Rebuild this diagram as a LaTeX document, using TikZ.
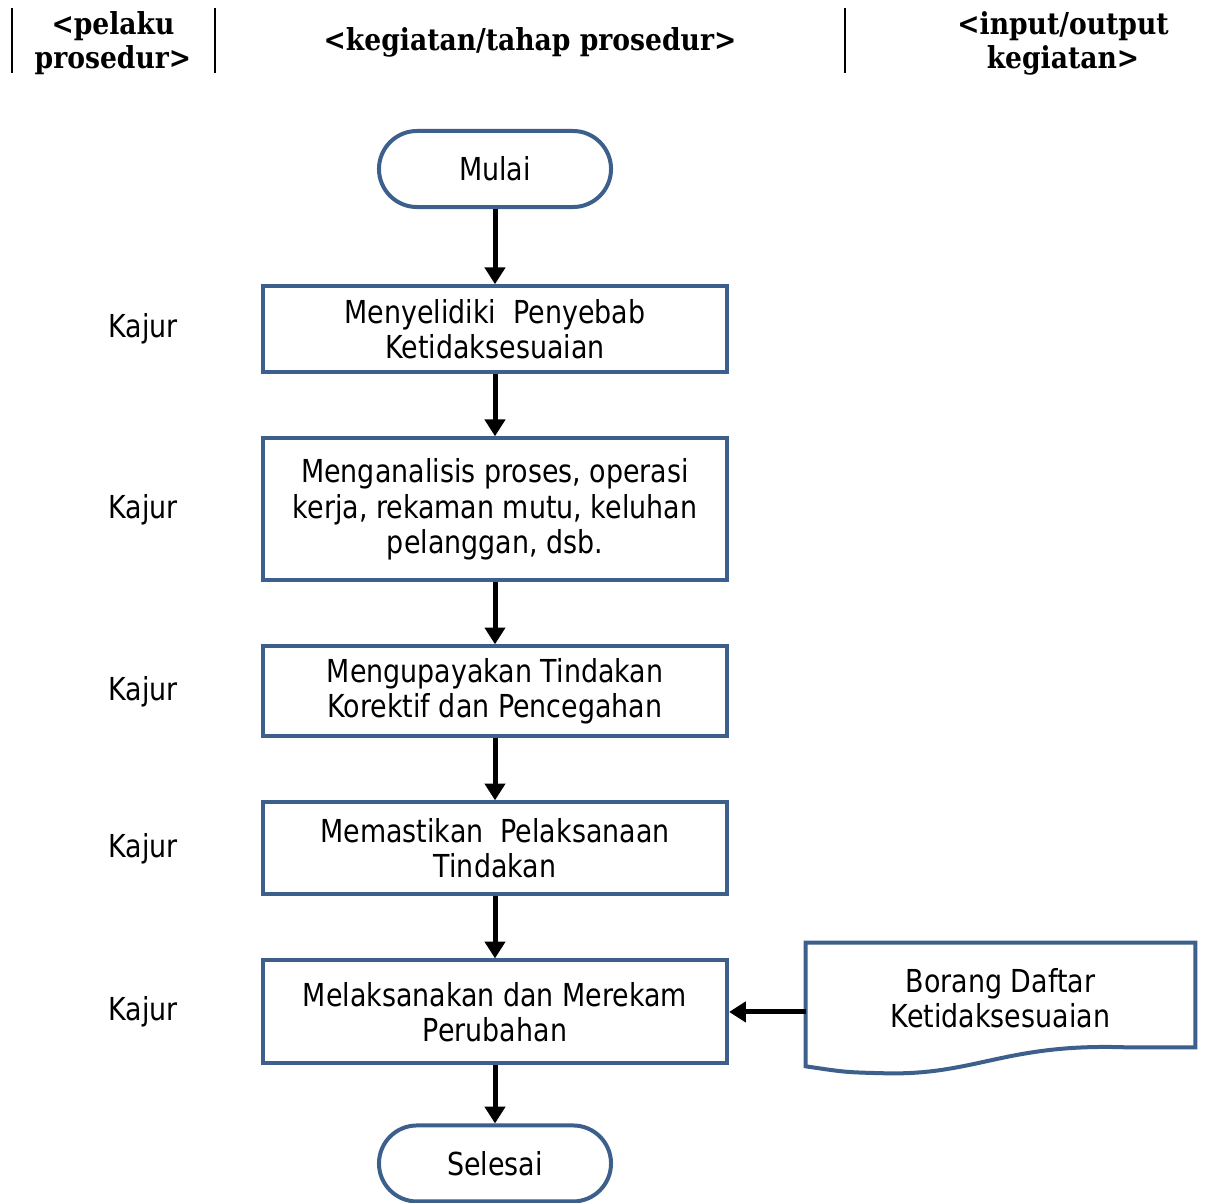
\documentclass[tikz,border=0pt]{standalone}
\usepackage{fontspec}
\setmainfont{DejaVu Sans}[FakeStretch=0.85]
\newfontfamily\headfont{DejaVu Serif}[FakeStretch=0.88]
\usetikzlibrary{shapes,arrows.meta,positioning,calc}
\definecolor{flowblue}{RGB}{60,95,140}
\newcommand{\flowtext}{\fontsize{22.5}{25}\selectfont}
\newcommand{\headtext}{\headfont\bfseries\fontsize{21.5}{24}\selectfont}

\begin{document}
\begin{tikzpicture}[
    x=0.025cm, y=-0.025cm,
    node distance=1.55cm,
    terminal/.style={rectangle, draw=flowblue, rounded corners=0.95cm, minimum width=5.8cm, minimum height=1.9cm, line width=0.1cm, font=\flowtext},
    block/.style={rectangle, draw=flowblue, align=center, minimum width=11.6cm, line width=0.1cm, font=\flowtext},
    actor/.style={font=\flowtext},
    head/.style={align=center, font=\headtext},
    sep/.style={line width=0.05cm},
    line/.style={draw, line width=0.125cm, -{Triangle[width=0.5cm,length=0.42cm]}}
]
\useasboundingbox (0,0) rectangle (1219,1203);

% Header
\draw [sep] (12,8) -- (12,73);
\draw [sep] (215,8) -- (215,73);
\draw [sep] (845,8) -- (845,73);
\node [head] (hpelaku) at (113,43) {<pelaku\\prosedur>};
\node [head] (hkegiatan) at (530,42) {<kegiatan/tahap prosedur>};
\node [head] (hio) at (1063,43) {<input/output\\kegiatan>};

% Nodes
\node [terminal] (mulai) at (495,169) {Mulai};
\node [block, minimum height=2.15cm, below=1.88cm of mulai] (selidik) {Menyelidiki\ \ Penyebab\\Ketidaksesuaian};
\node [block, minimum height=3.55cm, below=of selidik] (analisis) {Menganalisis proses, operasi\\kerja, rekaman mutu, keluhan\\pelanggan, dsb.};
\node [block, minimum height=2.25cm, below=of analisis] (upaya) {Mengupayakan Tindakan\\Korektif dan Pencegahan};
\node [block, minimum height=2.3cm, below=of upaya] (pastikan) {Memastikan\ \ Pelaksanaan\\Tindakan};
\node [block, minimum height=2.575cm, below=of pastikan] (rekam) {Melaksanakan dan Merekam\\Perubahan};
\node [terminal, below=1.45cm of rekam] (selesai) {Selesai};

% Pelaku
\node [actor, left=1.95cm of selidik] (kajur1) {Kajur};
\node [actor, left=1.95cm of analisis] (kajur2) {Kajur};
\node [actor, left=1.95cm of upaya] (kajur3) {Kajur};
\node [actor, left=1.95cm of pastikan] (kajur4) {Kajur};
\node [actor, left=1.95cm of rekam] (kajur5) {Kajur};

% Input/output
\node [font=\flowtext, align=center, minimum width=9.725cm, minimum height=2.75cm] (borang) at (1000.5,998) {Borang Daftar\\Ketidaksesuaian};
\draw [draw=flowblue, line width=0.1cm] (borang.north west) -- (borang.north east) -- ($(borang.south east)+(0,-6)$) -- ($(borang.south east)+(-70,-6)$)
    .. controls ($(borang.south east)+(-190,-10)$) and ($(borang.south west)+(170,22)$) .. ($(borang.south west)+(80,20)$)
    .. controls ($(borang.south west)+(40,19)$) .. ($(borang.south west)+(0,13)$) -- cycle;

% Connections
\draw [line] (mulai) -- (selidik);
\draw [line] (selidik) -- (analisis);
\draw [line] (analisis) -- (upaya);
\draw [line] (upaya) -- (pastikan);
\draw [line] (pastikan) -- (rekam);
\draw [line] (rekam) -- (selesai);
\draw [line] (borang.west |- rekam.east) -- (rekam.east);

\end{tikzpicture}
\end{document}
